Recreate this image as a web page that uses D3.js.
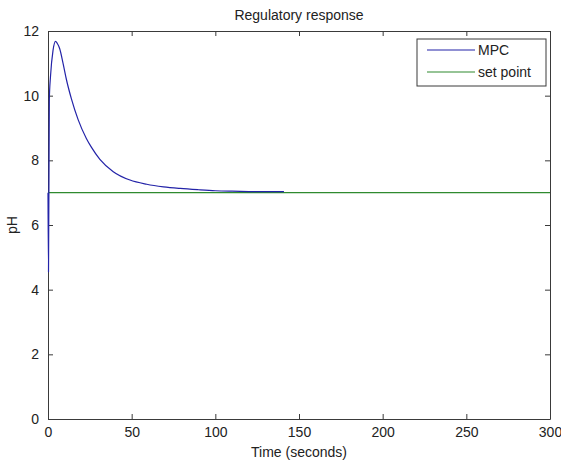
<!DOCTYPE html>
<html>
<head>
<meta charset="utf-8">
<script src="https://cdn.jsdelivr.net/npm/d3@7"></script>
<style>
  body { margin: 0; background: #fff; }
  text { font-family: "Liberation Sans", Arial, sans-serif; fill: #222; }
</style>
</head>
<body>
<div id="chart"></div>
<script>
// MPC response (time in seconds, pH)
const mpcTime = [0, 0.3, 0.8, 1.5, 3, 4.5, 5.5, 7, 9, 11, 14, 18, 23, 26, 31, 39, 49, 59, 69, 79, 90, 100, 110, 120, 130, 141];
const mpcPH   = [7.0, 4.55, 9.9, 10.6, 11.4, 11.68, 11.62, 11.45, 11.0, 10.5, 9.9, 9.26, 8.67, 8.40, 8.03, 7.65, 7.39, 7.26, 7.18, 7.13, 7.09, 7.06, 7.045, 7.035, 7.03, 7.03];
const setTime = [0, 300];
const setPH   = [7, 7];
const xTicks = [0, 50, 100, 150, 200, 250, 300];
const yTicks = [0, 2, 4, 6, 8, 10, 12];
const legendLabels = ['MPC', 'set point'];

const width = 561, height = 460;
const margin = {left: 48, right: 11, top: 31, bottom: 41};

const svg = d3.select('#chart').append('svg')
    .attr('width', width)
    .attr('height', height);

const x = d3.scaleLinear().domain([0, 300]).range([margin.left, width - margin.right]);
const y = d3.scaleLinear().domain([0, 12]).range([height - margin.bottom, margin.top]);

const colors = {mpc: '#2323a8', set: '#2f8a2f'};
const axisColor = '#3a3a3a';

//axes, MATLAB style: ticks pointing in, mirrored on all four sides
const tick = 5;
const xb = d3.axisBottom(x).tickValues(xTicks).tickSizeInner(-tick).tickSizeOuter(0).tickPadding(8);
const xt = d3.axisTop(x).tickValues(xTicks).tickSizeInner(-tick).tickSizeOuter(0).tickFormat('');
const yl = d3.axisLeft(y).tickValues(yTicks).tickSizeInner(-tick).tickSizeOuter(0).tickPadding(9);
const yr = d3.axisRight(y).tickValues(yTicks).tickSizeInner(-tick).tickSizeOuter(0).tickFormat('');

function style(g){
    g.select('.domain').attr('stroke', axisColor);
    g.selectAll('.tick line').attr('stroke', axisColor);
    g.selectAll('.tick text').attr('font-size', 14).attr('fill', '#222')
        .attr('font-family', '"Liberation Sans", Arial, sans-serif');
}

svg.append('g').attr('transform', `translate(0,${y(0)})`).call(xb).call(style);
svg.append('g').attr('transform', `translate(0,${y(12)})`).call(xt).call(style);
svg.append('g').attr('transform', `translate(${x(0)},0)`).call(yl).call(style);
svg.append('g').attr('transform', `translate(${x(300)},0)`).call(yr).call(style);

//lines
const line = d3.line().x(d => x(d[0])).y(d => y(d[1])).curve(d3.curveMonotoneX);
const setData = setTime.map((t, i) => [t, setPH[i]]);
const mpcData = mpcTime.map((t, i) => [t, mpcPH[i]]);

svg.append('path').datum(setData)
    .attr('d', line)
    .attr('fill', 'none')
    .attr('stroke', colors.set)
    .attr('stroke-width', 1.2);

svg.append('path').datum(mpcData)
    .attr('d', line)
    .attr('fill', 'none')
    .attr('stroke', colors.mpc)
    .attr('stroke-width', 1.2)
    .attr('stroke-linejoin', 'round');

//title and labels
svg.append('text')
    .attr('x', (x(0) + x(300)) / 2)
    .attr('y', 20)
    .attr('text-anchor', 'middle')
    .attr('font-size', 14)
    .text('Regulatory response');

svg.append('text')
    .attr('x', (x(0) + x(300)) / 2)
    .attr('y', 457)
    .attr('text-anchor', 'middle')
    .attr('font-size', 14)
    .text('Time (seconds)');

svg.append('text')
    .attr('transform', `translate(17,${(y(0) + y(12)) / 2}) rotate(-90)`)
    .attr('text-anchor', 'middle')
    .attr('font-size', 14)
    .text('pH');

//legend
const lg = svg.append('g');
lg.append('rect')
    .attr('x', 417).attr('y', 39)
    .attr('width', 129).attr('height', 47)
    .attr('fill', '#fff')
    .attr('stroke', axisColor);

[colors.mpc, colors.set].forEach((c, i) => {
    const yy = 50 + i * 22;
    lg.append('line')
        .attr('x1', 427).attr('x2', 475)
        .attr('y1', yy).attr('y2', yy)
        .attr('stroke', c).attr('stroke-width', 1.2);
    lg.append('text')
        .attr('x', 478).attr('y', yy + 5)
        .attr('font-size', 14)
        .text(legendLabels[i]);
});
</script>
</body>
</html>
